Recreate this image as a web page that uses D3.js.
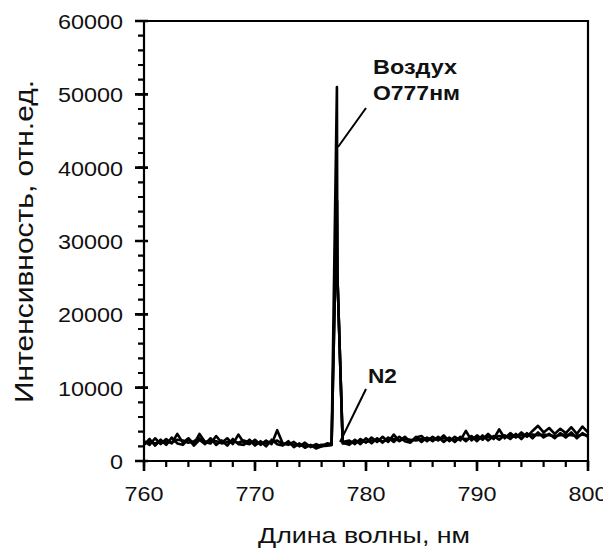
<!DOCTYPE html>
<html><head><meta charset="utf-8">
<script src="https://cdn.jsdelivr.net/npm/d3@7"></script>
<style>body{margin:0;background:#fff}svg{display:block}text{font-family:"Liberation Sans",Arial,sans-serif}</style>
</head><body><svg id="c" width="603" height="548"></svg>
<script>
// wavelengths (nm)
const wavelengths = [760,760.5,761,761.5,762,762.5,763,763.5,764,764.5,765,765.5,766,766.5,767,767.5,768,768.5,769,769.5,770,770.5,771,771.5,772,772.5,773,773.5,774,774.5,775,775.5,776,776.5,776.9,777.38,777.42,777.9,778.5,779,779.5,780,780.5,781,781.5,782,782.5,783,783.5,784,784.5,785,785.5,786,786.5,787,787.5,788,788.5,789,789.5,790,790.5,791,791.5,792,792.5,793,793.5,794,794.5,795,795.5,796,796.5,797,797.5,798,798.5,799,799.5,800];
const seriesA = [2700,2200,3100,2300,3000,2400,3700,2500,3100,2300,3700,2600,2400,3400,2500,3100,2300,3600,2500,2300,2900,2200,2800,2300,4200,2400,2200,2600,2000,2500,1900,2300,2000,2400,2300,51000,25500,2600,2800,2300,3000,2500,3200,2600,3300,2600,3600,2700,3300,2600,3200,3400,2700,3300,2800,3500,2700,3300,2800,4100,2800,3500,2900,3700,3000,4300,3100,3800,3200,3900,3300,4100,4800,3900,4500,3700,4400,3800,4600,3700,4700,3900];
const seriesB = [2200,3000,2100,2900,2200,3200,2400,2200,3000,2100,2900,2300,3100,2200,2800,2100,3000,2300,2200,2900,2100,2700,2000,2900,2300,2100,2700,1900,2400,1800,2200,1700,2000,2100,2200,35500,25500,2500,2200,2900,2300,3100,2400,3100,2500,3200,2600,3300,2700,2500,3300,2600,3200,2700,3300,2600,3200,2600,3300,2700,3400,2700,3500,2800,3400,2900,3500,3000,3700,3000,3800,3100,3900,3200,3700,3100,3800,3200,3900,3100,3800,3300];
const seriesC = [2500,2600,2400,2700,2600,2500,2900,2800,2500,2700,3100,2600,2800,2700,2400,2600,2700,2500,2800,2500,2500,2400,2500,2600,2800,2300,2400,2200,2200,2100,2100,2000,2200,2200,2200,35500,25500,2400,2500,2600,2700,2600,2800,2900,2700,2900,3000,2800,3000,2900,2800,3000,3100,2900,3000,3100,3000,2900,3100,3000,3100,3200,3100,3300,3200,3400,3300,3400,3300,3500,3400,3600,3500,3600,3500,3400,3500,3600,3500,3400,3600,3500];
const xTicks = [760,770,780,790,800];
const yTicks = [0,10000,20000,30000,40000,50000,60000];
const xTitle = "Длина волны, нм";
const yTitle = "Интенсивность, отн.ед.";
const annotations = [
  {lines:["Воздух","О777нм"], widths:[84,87], tx:780.63, ty:[52770,49230], from:[780.0,48140], to:[777.48,42820]},
  {lines:["N2"], widths:[29], tx:780.18, ty:[10640], from:[780.0,9820], to:[777.66,2590]}
];

const svg = d3.select("#c");
const L=144, R=588, T=21, B=461;
const xs = d3.scaleLinear().domain([760,800]).range([L,R]);
const ys = d3.scaleLinear().domain([0,60000]).range([B,T]);

// data lines
const line = d3.line().x((d,i)=>xs(wavelengths[i])).y(d=>ys(d));
[seriesC, seriesB, seriesA].forEach(s=>{
  svg.append("path").attr("d",line(s)).attr("fill","none")
    .attr("stroke","#000").attr("stroke-width",2.6).attr("stroke-linejoin","round");
});

// frame
svg.append("path").attr("d",`M${L},${T}H${R}V${B}H${L}Z`)
  .attr("fill","none").attr("stroke","#000").attr("stroke-width",2.2);

// ticks
const minorP = d3.path(), majorP = d3.path();
for(let v=760; v<=800; v+=2){ minorP.moveTo(xs(v),B); minorP.lineTo(xs(v),B+6); }
for(let v=0; v<=60000; v+=2000){ minorP.moveTo(L-6,ys(v)); minorP.lineTo(L,ys(v)); }
xTicks.forEach(v=>{ majorP.moveTo(xs(v),B); majorP.lineTo(xs(v),B+10); });
yTicks.forEach(v=>{ majorP.moveTo(L-9,ys(v)); majorP.lineTo(L+4,ys(v)); });
svg.append("path").attr("d",minorP.toString()).attr("fill","none").attr("stroke","#000").attr("stroke-width",2.2);
svg.append("path").attr("d",majorP.toString()).attr("fill","none").attr("stroke","#000").attr("stroke-width",2.6);

xTicks.forEach(v=>{
  svg.append("text").attr("x",xs(v)).attr("y",501).attr("text-anchor","middle")
    .attr("font-size",21).attr("textLength",39).attr("lengthAdjust","spacingAndGlyphs")
    .attr("fill","#111").text(v);
});
yTicks.forEach(v=>{
  const s = String(v);
  svg.append("text").attr("x",123).attr("y",ys(v)+8).attr("text-anchor","end")
    .attr("font-size",20).attr("textLength",13*s.length).attr("lengthAdjust","spacingAndGlyphs")
    .attr("fill","#111").text(s);
});

// titles
svg.append("text").attr("x",364).attr("y",543).attr("text-anchor","middle")
  .attr("font-size",22.5).attr("textLength",212).attr("lengthAdjust","spacingAndGlyphs")
  .attr("fill","#111").text(xTitle);
svg.append("text").attr("transform","translate(33,241.5) rotate(-90)").attr("text-anchor","middle")
  .attr("font-size",25).attr("textLength",323).attr("lengthAdjust","spacingAndGlyphs")
  .attr("fill","#111").text(yTitle);

// annotations
annotations.forEach(a=>{
  svg.append("path").attr("d",`M${xs(a.from[0])},${ys(a.from[1])}L${xs(a.to[0])},${ys(a.to[1])}`)
    .attr("stroke","#000").attr("stroke-width",2).attr("fill","none");
  a.lines.forEach((t,i)=>{
    svg.append("text").attr("x",xs(a.tx)).attr("y",ys(a.ty[i])).attr("font-size",21)
      .attr("textLength",a.widths[i]).attr("lengthAdjust","spacingAndGlyphs")
      .attr("font-weight","bold").attr("fill","#111").text(t);
  });
});
</script></body></html>
